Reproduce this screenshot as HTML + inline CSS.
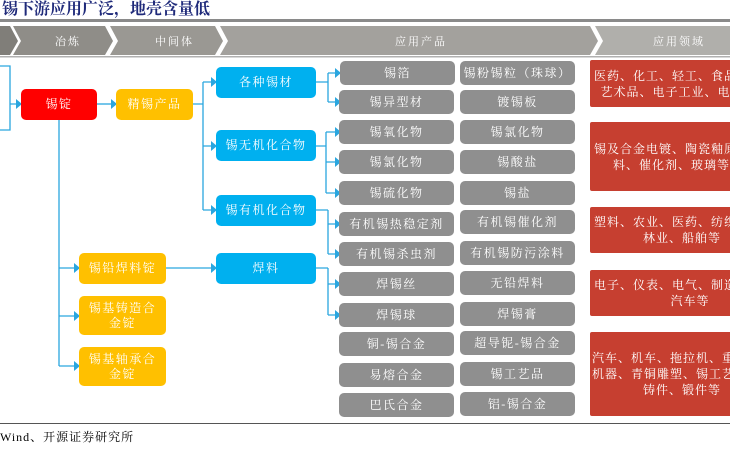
<!DOCTYPE html>
<html><head><meta charset="utf-8"><style>
body{margin:0;width:730px;height:450px;background:#fff;position:relative;overflow:hidden;font-family:"Liberation Serif","Noto Serif CJK SC",serif;}
.b{position:absolute;display:flex;align-items:center;justify-content:center;text-align:center;color:#fff;font-size:12px;line-height:15px;border-radius:5px;box-sizing:border-box;letter-spacing:1.5px;white-space:nowrap;}
.g{background:#8f8f8f;width:115px;height:24px;}
.r{background:#c63f30;left:590px;width:150px;border-radius:2px;font-size:12px;line-height:16px;letter-spacing:1px;justify-content:flex-start;padding-left:4px;}
.bl{background:#00b0ef;left:216px;width:100px;height:31px;}
.y{background:#ffc000;left:79px;width:87px;}
.h{position:absolute;top:33px;font-size:11px;color:#fff;letter-spacing:2px}
</style></head><body>
<div style="position:absolute;left:2px;top:-4px;font-size:16px;font-weight:bold;color:#1f2a7a;">锡下游应用广泛，地壳含量低</div>
<svg style="position:absolute;left:0;top:0" width="730" height="450">
<rect x="0" y="19" width="730" height="3" fill="#8a8a8a"/>
<polygon points="0,26 10,26 18,41 10,55 0,55" fill="#807e79"/>
<polygon points="13,26 105,26 113,41 105,55 13,55 21,41" fill="#8f8d88"/>
<polygon points="110,26 215,26 223,41 215,55 110,55 118,41" fill="#9a9893"/>
<polygon points="220,26 590,26 598,41 590,55 220,55 228,41" fill="#a3a19d"/>
<polygon points="595,26 730,26 730,55 595,55 603,41" fill="#b0afab"/>
<rect x="0" y="56" width="730" height="1.5" fill="#b0b0b0"/>
<g stroke="#2aa6df" stroke-width="1.3" fill="none">
<path d="M0,66 H10 V104 H18 M0,130 H10 V104"/>
<path d="M97,104 H113"/>
<path d="M59,120 V366 M59,268 H76 M59,316 H76 M59,366 H76"/>
<path d="M193,104 H203 M203,82 V210 M203,82 H213 M203,146 H213 M203,210 H213"/>
<path d="M316,82 H328 M328,73 V102 M328,73 H337 M328,102 H337"/>
<path d="M316,146 H326 M326,132 V193 M326,132 H337 M326,162 H337 M326,193 H337"/>
<path d="M316,210 H328 M328,210 V254 M328,224 H337 M328,254 H337"/>
<path d="M166,268 H213"/>
<path d="M316,268 H328 M328,268 V315 M328,284 H337 M328,315 H337"/>
</g>
<g fill="#2aa6df">
<polygon points="16,99 22,104 16,109"/><polygon points="111,99 117,104 111,109"/>
<polygon points="74,263 80,268 74,273"/><polygon points="74,311 80,316 74,321"/><polygon points="74,361 80,366 74,371"/>
<polygon points="211,77 217,82 211,87"/><polygon points="211,141 217,146 211,151"/><polygon points="211,205 217,210 211,215"/><polygon points="211,263 217,268 211,273"/>
<polygon points="335,68 341,73 335,78"/><polygon points="335,97 341,102 335,107"/><polygon points="335,127 341,132 335,137"/><polygon points="335,157 341,162 335,167"/><polygon points="335,188 341,193 335,198"/><polygon points="335,219 341,224 335,229"/><polygon points="335,249 341,254 335,259"/><polygon points="335,279 341,284 335,289"/><polygon points="335,310 341,315 335,320"/>
</g>
<rect x="0" y="423" width="730" height="1" fill="#555"/>
</svg>
<div class="h" style="left:55px">冶炼</div>
<div class="h" style="left:155px">中间体</div>
<div class="h" style="left:395px">应用产品</div>
<div class="h" style="left:653px">应用领域</div>
<div class="b" style="background:#f00;left:21px;top:89px;width:76px;height:31px">锡锭</div>
<div class="b" style="background:#ffc000;left:116px;top:89px;width:77px;height:31px">精锡产品</div>
<div class="b bl" style="top:67px">各种锡材</div>
<div class="b bl" style="top:130px">锡无机化合物</div>
<div class="b bl" style="top:195px">锡有机化合物</div>
<div class="b bl" style="top:253px">焊料</div>
<div class="b y" style="top:253px;height:31px">锡铅焊料锭</div>
<div class="b y" style="top:296px;height:39px">锡基铸造合<br>金锭</div>
<div class="b y" style="top:347px;height:39px">锡基轴承合<br>金锭</div>
<div class="b g" style="left:340px;top:61px">锡箔</div><div class="b g" style="left:460px;top:61px">锡粉锡粒（珠球）</div>
<div class="b g" style="left:339px;top:90px">锡异型材</div><div class="b g" style="left:460px;top:90px">镀锡板</div>
<div class="b g" style="left:339px;top:120px">锡氧化物</div><div class="b g" style="left:460px;top:120px">锡氯化物</div>
<div class="b g" style="left:339px;top:150px">锡氯化物</div><div class="b g" style="left:460px;top:150px">锡酸盐</div>
<div class="b g" style="left:339px;top:181px">锡硫化物</div><div class="b g" style="left:460px;top:181px">锡盐</div>
<div class="b g" style="left:339px;top:212px">有机锡热稳定剂</div><div class="b g" style="left:460px;top:210px">有机锡催化剂</div>
<div class="b g" style="left:339px;top:242px">有机锡杀虫剂</div><div class="b g" style="left:460px;top:241px">有机锡防污涂料</div>
<div class="b g" style="left:339px;top:272px">焊锡丝</div><div class="b g" style="left:460px;top:271px">无铅焊料</div>
<div class="b g" style="left:339px;top:303px">焊锡球</div><div class="b g" style="left:460px;top:302px">焊锡膏</div>
<div class="b g" style="left:339px;top:332px">铜-锡合金</div><div class="b g" style="left:460px;top:331px">超导铌-锡合金</div>
<div class="b g" style="left:339px;top:363px">易熔合金</div><div class="b g" style="left:460px;top:362px">锡工艺品</div>
<div class="b g" style="left:339px;top:393px">巴氏合金</div><div class="b g" style="left:460px;top:392px">铝-锡合金</div>
<div class="b r" style="top:60px;height:47px">医药、化工、轻工、食品、<br>艺术品、电子工业、电器</div>
<div class="b r" style="top:122px;height:69px">锡及合金电镀、陶瓷釉原<br>&nbsp;&nbsp;&nbsp;料、催化剂、玻璃等</div>
<div class="b r" style="top:207px;height:46px">塑料、农业、医药、纺织、<br>&nbsp;&nbsp;&nbsp;&nbsp;&nbsp;林业、船舶等</div>
<div class="b r" style="top:270px;height:46px">电子、仪表、电气、制造、<br>&nbsp;&nbsp;&nbsp;&nbsp;&nbsp;&nbsp;&nbsp;&nbsp;&nbsp;汽车等</div>
<div class="b r" style="top:332px;height:84px;padding-left:2px">汽车、机车、拖拉机、重型<br>机器、青铜雕塑、锡工艺品<br>&nbsp;&nbsp;&nbsp;&nbsp;&nbsp;&nbsp;铸件、锻件等</div>
<div style="position:absolute;left:0;top:428px;font-size:12px;color:#000;letter-spacing:1px">Wind、开源证券研究所</div>
</body></html>
